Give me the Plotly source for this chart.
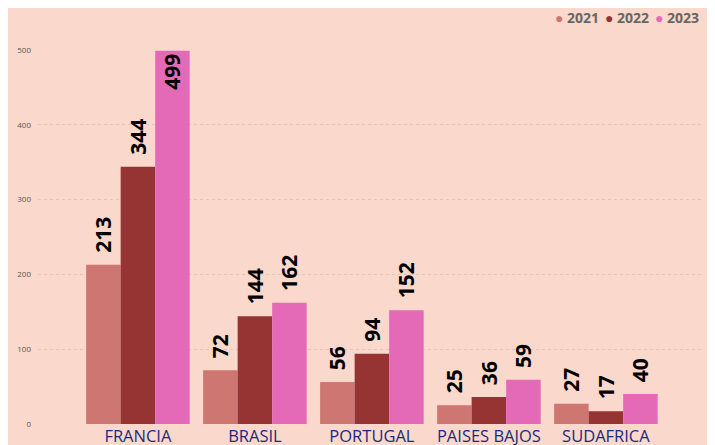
import plotly.graph_objects as go

countries = ["FRANCIA", "BRASIL", "PORTUGAL", "PAISES BAJOS", "SUDAFRICA"]
v2021 = [213, 72, 56, 25, 27]
v2022 = [344, 144, 94, 36, 17]
v2023 = [499, 162, 152, 59, 40]

years = ["2021", "2022", "2023"]
colors = ["#CD7672", "#963333", "#E46AB8"]
BG = "#FAD8CC"

# page body has an 8px margin, so the figure is drawn 8px in from the corner
W, H = 707, 437

fig = go.Figure()
for year, vals, col in zip(years, [v2021, v2022, v2023], colors):
    pos = ["inside" if v > 450 else "outside" for v in vals]
    labels = [str(v) if v > 450 else "\u00a0\u2009" + str(v) for v in vals]
    fig.add_trace(go.Bar(
        x=countries, y=vals, name=year, marker_color=col,
        marker_line_width=0,
        text=labels, textposition=pos, textangle=-90,
        insidetextanchor="end", cliponaxis=False, constraintext="none",
        textfont=dict(family="Open Sans", size=21, color="black", weight="bold"),
        showlegend=False,
    ))

# legend drawn as text with coloured dots
legend_x = [545, 595, 645]
for year, col, lx in zip(years, colors, legend_x):
    fig.add_annotation(
        text=f"<span style='color:{col}'>●</span> {year}",
        xref="paper", yref="paper", x=(lx - 30) / (W - 42), y=1 + 33 / 374,
        xanchor="left", yanchor="middle", showarrow=False,
        font=dict(family="Open Sans", size=14, color="#666666", weight="bold"),
    )

fig.update_layout(
    width=W, height=H,
    paper_bgcolor=BG, plot_bgcolor=BG,
    margin=dict(l=30, r=12, t=42, b=21, autoexpand=False),
    barmode="group", bargap=0.115, bargroupgap=0,
    font=dict(family="Open Sans"),
    showlegend=False,
    xaxis=dict(range=[-0.854, 4.83], showgrid=False, zeroline=False, ticks="",
               tickfont=dict(size=16.5, color="#1A2A80"), showline=False,
               automargin=False),
    yaxis=dict(range=[0, 500], tickvals=[0, 100, 200, 300, 400, 500],
               showgrid=True, gridcolor="#EBC3B6", griddash="dot", gridwidth=1,
               zeroline=False, tickfont=dict(size=8, color="#555555"),
               ticklabelstandoff=6, automargin=False),
)

fig.write_html("out.html")
